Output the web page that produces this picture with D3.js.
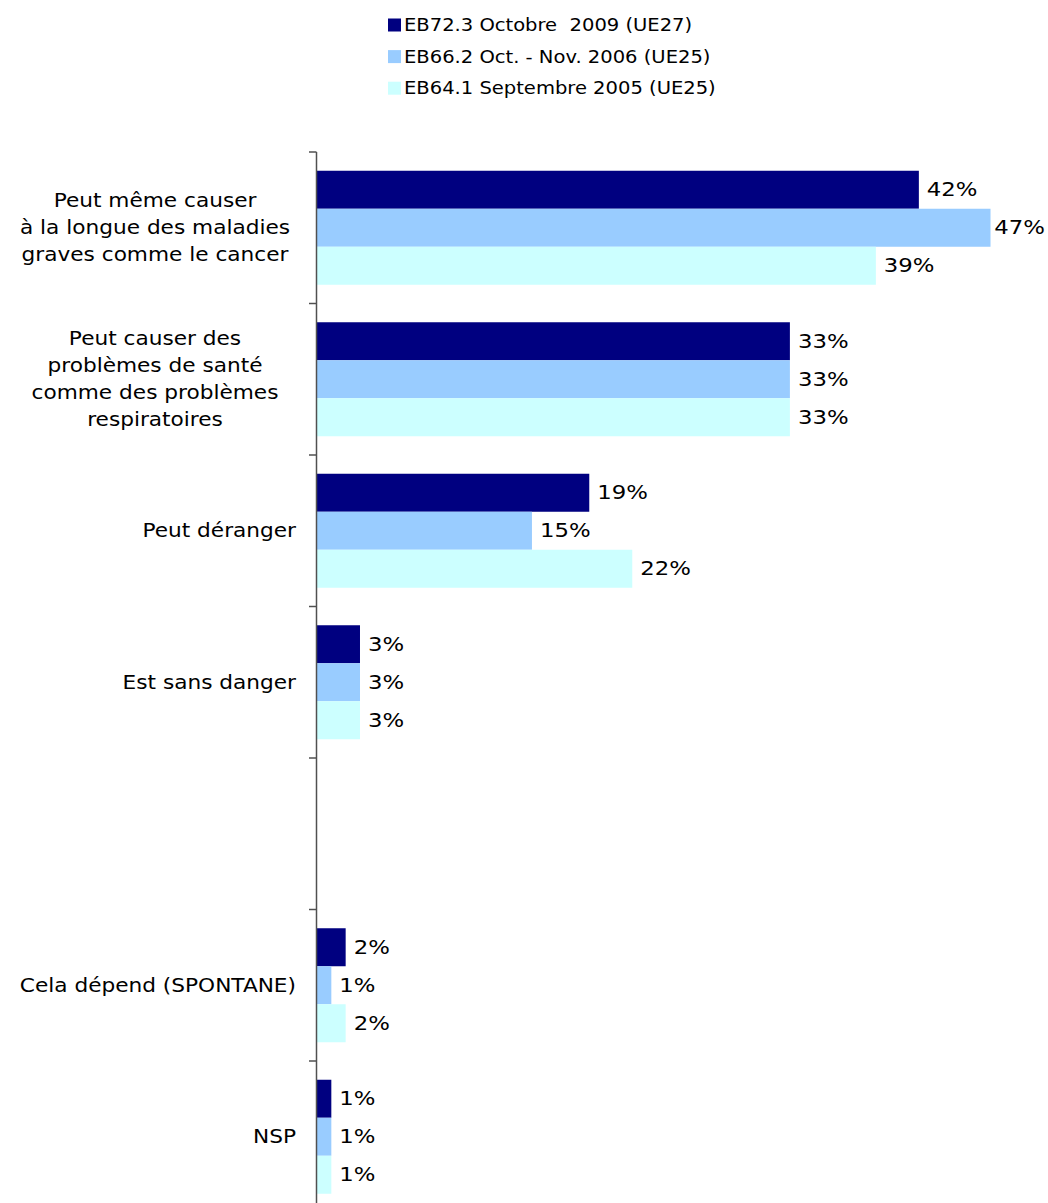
<!DOCTYPE html>
<html>
<head>
<meta charset="utf-8">
<script src="https://cdn.jsdelivr.net/npm/d3@7"></script>
<style>
  html, body { margin: 0; padding: 0; background: #fff; }
  svg { display: block; }
  text { font-family: "DejaVu Sans", Verdana, sans-serif; fill: #000; }
</style>
</head>
<body>
<svg id="chart" width="1048" height="1203"></svg>
<script>
// ---- data ----
const categories = [
  "Peut même causer\nà la longue des maladies\ngraves comme le cancer",
  "Peut causer des\nproblèmes de santé\ncomme des problèmes\nrespiratoires",
  "Peut déranger",
  "Est sans danger",
  "",
  "Cela dépend (SPONTANE)",
  "NSP"
];
const seriesNames = [
  "EB72.3 Octobre  2009 (UE27)",
  "EB66.2 Oct. - Nov. 2006 (UE25)",
  "EB64.1 Septembre 2005 (UE25)"
];
const seriesColors = ["#000080", "#99CCFF", "#CCFFFF"];
const values2009 = [42, 33, 19, 3, null, 2, 1];
const values2006 = [47, 33, 15, 3, null, 1, 1];
const values2005 = [39, 33, 22, 3, null, 2, 1];
const seriesValues = [values2009, values2006, values2005];

// ---- layout ----
const svg = d3.select("#chart");
const axisX = 317;
const topY = 152;
const step = 151.5;
const yBand = d3.scaleBand()
  .domain(d3.range(categories.length))
  .range([topY, topY + step * categories.length])
  .paddingInner(0.2475)
  .paddingOuter(0.2475 / 2);
const ySub = d3.scaleBand()
  .domain(d3.range(seriesNames.length))
  .range([0, yBand.bandwidth()]);
const x = d3.scaleLinear().domain([0, 50]).range([axisX, axisX + 50 * 14.33]);

const valScale = 1.2, catScale = 1.14, legScale = 1.15;

// bars
const groups = svg.append("g").selectAll("g")
  .data(categories.map((c, i) => i))
  .join("g")
  .attr("transform", i => `translate(0,${yBand(i)})`);

groups.each(function(ci) {
  const g = d3.select(this);
  seriesValues.forEach((vals, si) => {
    const v = vals[ci];
    if (v == null) return;
    g.append("rect")
      .attr("x", x(0))
      .attr("y", ySub(si))
      .attr("width", x(v) - x(0))
      .attr("height", ySub.bandwidth())
      .attr("fill", seriesColors[si]);
    const t = g.append("text")
      .attr("dominant-baseline", "central")
      .attr("font-size", 19)
      .text(v + "%");
    const w = t.node().getComputedTextLength() * valScale;
    const tx = Math.min(x(v) + 8, 1045 - w);
    t.attr("transform", `translate(${tx},${ySub(si) + ySub.bandwidth() / 2}) scale(${valScale},1)`);
  });
});

// axis
const axisG = svg.append("g");
axisG.append("line")
  .attr("x1", axisX - 0.5).attr("x2", axisX - 0.5)
  .attr("y1", topY).attr("y2", topY + step * categories.length)
  .attr("stroke", "#505050").attr("stroke-width", 1.5);
axisG.selectAll("line.tick")
  .data(d3.range(categories.length + 1))
  .join("line")
  .attr("class", "tick")
  .attr("x1", axisX - 8).attr("x2", axisX - 0.5)
  .attr("y1", i => topY + i * step).attr("y2", i => topY + i * step)
  .attr("stroke", "#505050").attr("stroke-width", 1.5);

// category labels
const lineH = 27;
categories.forEach((c, i) => {
  if (!c) return;
  const lines = c.split("\n");
  const cy = yBand(i) + yBand.bandwidth() / 2;
  const multi = lines.length > 1;
  const t = svg.append("text")
    .attr("font-size", 19)
    .attr("text-anchor", multi ? "middle" : "end")
    .attr("transform", `translate(${multi ? 155 : 296},0) scale(${catScale},1)`);
  lines.forEach((ln, k) => {
    t.append("tspan")
      .attr("x", 0)
      .attr("y", cy + (k - (lines.length - 1) / 2) * lineH)
      .attr("dominant-baseline", "central")
      .text(ln);
  });
});

// legend
const legend = svg.append("g");
seriesNames.forEach((n, i) => {
  const cy = 25 + i * 31.6;
  legend.append("rect")
    .attr("x", 388).attr("y", cy - 6.5)
    .attr("width", 13).attr("height", 13)
    .attr("fill", seriesColors[i]);
  legend.append("text")
    .attr("transform", `translate(404,${cy}) scale(${legScale},1)`)
    .attr("dominant-baseline", "central")
    .attr("font-size", 17)
    .style("white-space", "pre")
    .text(n);
});
</script>
</body>
</html>
